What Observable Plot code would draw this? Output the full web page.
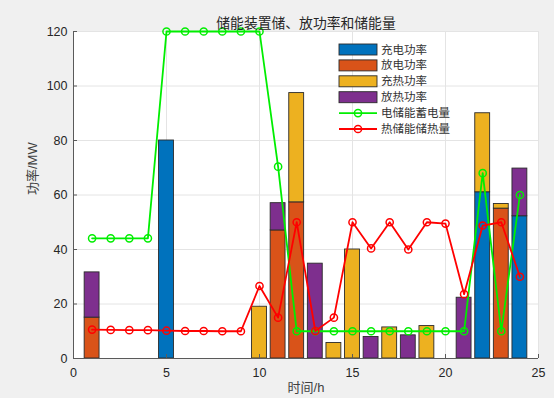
<!DOCTYPE html>
<html>
<head>
<meta charset="utf-8">
<script src="https://cdn.jsdelivr.net/npm/d3@7"></script>
<script src="https://cdn.jsdelivr.net/npm/@observablehq/plot@0.6"></script>
<style>
  html, body { margin: 0; padding: 0; background: #f0f0f0; }
  #wrap { position: relative; width: 554px; height: 398px; background: #f0f0f0; overflow: hidden; }
  #chart svg { display: block; }
  #legend { position: absolute; left: 0; top: 0; }
</style>
</head>
<body>
<div id="wrap"><div id="chart"></div><svg id="legend" width="554" height="398"></svg></div>
<script>
// ---- data ----
const title = "储能装置储、放功率和储能量";
const xLabel = "时间/h";
const yLabel = "功率/MW";
const hours = [1,2,3,4,5,6,7,8,9,10,11,12,13,14,15,16,17,18,19,20,21,22,23,24];
const seriesNames = ["充电功率", "放电功率", "充热功率", "放热功率"];
const seriesColors = ["#0072BD", "#D95319", "#EDB120", "#7E2F8E"];
const chargeElec    = [0,0,0,0,80,0,0,0,0,0,0,0,0,0,0,0,0,0,0,0,0,61,0,52.2];
const dischargeElec = [15,0,0,0,0,0,0,0,0,0,47,57.3,0,0,0,0,0,0,0,0,0,0,55,0];
const chargeHeat    = [0,0,0,0,0,0,0,0,0,19,0,40.1,0,5.7,40,0,11.4,0,11.9,0,0,29,1.7,0];
const dischargeHeat = [16.6,0,0,0,0,0,0,0,0,0,10,0,34.8,0,0,7.9,0,8.5,0,0,22.3,0,0,17.5];
const lineNames = ["电储能蓄电量", "热储能储热量"];
const lineColors = ["#00EE00", "#FF0000"];
const elecStore = [44.1,44.1,44.1,44.1,120,120,120,120,120,120,70.4,10,10,10,10,10,10,10,10,10,10,68,10,60];
const heatStore = [10.6,10.5,10.4,10.4,10.2,10.1,10.1,10,10,26.6,15,50,10.1,15,50,40.4,50,40,50,49.5,23.6,48.8,50,30];
const xTicks = [0,5,10,15,20,25];
const yTicks = [0,20,40,60,80,100,120];

// ---- derived tables ----
const seriesValues = [chargeElec, dischargeElec, chargeHeat, dischargeHeat];
const barWidth = 0.8;
const barRows = [];
hours.forEach((h, i) => {
  let base = 0;
  seriesValues.forEach((vals, s) => {
    const v = vals[i];
    if (v > 0) barRows.push({hour: h, series: seriesNames[s], y1: base, y2: base + v});
    base += v;
  });
});
const lineRows = [];
[elecStore, heatStore].forEach((vals, s) => hours.forEach((h, i) => lineRows.push({hour: h, name: lineNames[s], value: vals[i]})));

const fontStack = "'Liberation Sans', Arial, 'Noto Sans CJK SC', sans-serif";
const axisColor = "#5a5a5a";
const gridColor = "#e4e4e4";

const chart = Plot.plot({
  width: 554,
  height: 398,
  marginLeft: 73,
  marginRight: 16,
  marginTop: 31,
  marginBottom: 40,
  style: {background: "transparent", fontFamily: fontStack, fontSize: "12.5px", color: "#262626"},
  x: {domain: [0, 25], axis: null},
  y: {domain: [0, 120], axis: null},
  color: {domain: seriesNames, range: seriesColors},
  marks: [
    Plot.frame({fill: "white", stroke: null}),
    Plot.ruleX(xTicks, {x: d => d, stroke: gridColor, strokeWidth: 1}),
    Plot.ruleY(yTicks, {y: d => d, stroke: gridColor, strokeWidth: 1}),
    Plot.rect(barRows, {x1: d => d.hour - barWidth / 2, x2: d => d.hour + barWidth / 2, y1: "y1", y2: "y2", fill: "series", stroke: "#2a2a2a", strokeWidth: 0.9}),
    Plot.line(lineRows.filter(d => d.name === lineNames[0]), {x: "hour", y: "value", stroke: lineColors[0], strokeWidth: 1.8}),
    Plot.dot(lineRows.filter(d => d.name === lineNames[0]), {x: "hour", y: "value", r: 3.6, stroke: lineColors[0], strokeWidth: 1.5, fill: "none"}),
    Plot.line(lineRows.filter(d => d.name === lineNames[1]), {x: "hour", y: "value", stroke: lineColors[1], strokeWidth: 1.8}),
    Plot.dot(lineRows.filter(d => d.name === lineNames[1]), {x: "hour", y: "value", r: 3.6, stroke: lineColors[1], strokeWidth: 1.5, fill: "none"}),
    Plot.axisX(xTicks, {anchor: "bottom", tickSize: -4, tickPadding: 14, stroke: axisColor, fill: "#262626", fontSize: 12.5, label: null}),
    Plot.axisY(yTicks, {anchor: "left", tickSize: -4, tickPadding: 10, stroke: axisColor, fill: "#262626", fontSize: 12.5, label: null}),
    Plot.ruleX([0], {stroke: axisColor}),
    Plot.ruleY([0], {stroke: axisColor}),
    Plot.text([title], {frameAnchor: "top", dy: -13, fontSize: 13.8, fill: "#262626", fontFamily: "'Noto Sans CJK SC', sans-serif"}),
    Plot.text([xLabel], {frameAnchor: "bottom", dy: 33, fontSize: 13, fill: "#404040"}),
    Plot.text([yLabel], {frameAnchor: "left", dx: -41, rotate: -90, fontSize: 13, fill: "#404040"})
  ]
});
document.getElementById("chart").appendChild(chart);

// ---- legend (no box, like MATLAB legend boxoff) ----
const lg = d3.select("#legend").style("font-family", "'Noto Sans CJK SC', sans-serif").style("font-size", "11.5px");
const lx = 339, ly = 49.5, step = 15.9, sw = 38;
seriesNames.forEach((name, i) => {
  const cy = ly + i * step;
  lg.append("rect").attr("x", lx).attr("y", cy - 5.5).attr("width", sw).attr("height", 11)
    .attr("fill", seriesColors[i]).attr("stroke", "#2a2a2a").attr("stroke-width", 0.9);
  lg.append("text").attr("x", lx + sw + 4).attr("y", cy).attr("dy", "0.35em").attr("fill", "#333").text(name);
});
lineNames.forEach((name, j) => {
  const cy = ly + (seriesNames.length + j) * step;
  lg.append("line").attr("x1", lx).attr("x2", lx + sw).attr("y1", cy).attr("y2", cy)
    .attr("stroke", lineColors[j]).attr("stroke-width", 1.8);
  lg.append("circle").attr("cx", lx + sw / 2).attr("cy", cy).attr("r", 3.6)
    .attr("fill", "none").attr("stroke", lineColors[j]).attr("stroke-width", 1.5);
  lg.append("text").attr("x", lx + sw + 4).attr("y", cy).attr("dy", "0.35em").attr("fill", "#333").text(name);
});
</script>
</body>
</html>
